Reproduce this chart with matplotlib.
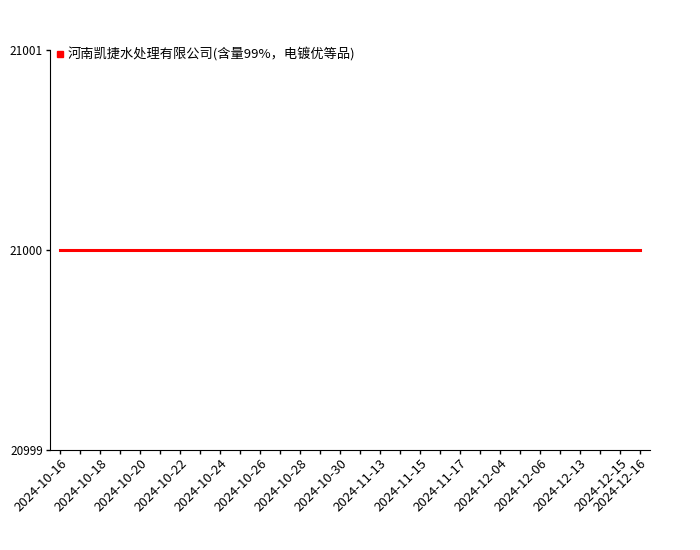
import matplotlib
matplotlib.use('Agg')
import matplotlib.pyplot as plt
from matplotlib.lines import Line2D

plt.rcParams['font.family'] = ['Noto Sans CJK SC', 'DejaVu Sans']

dates = ['2024-10-16', '2024-10-17', '2024-10-18', '2024-10-19', '2024-10-20',
         '2024-10-21', '2024-10-22', '2024-10-23', '2024-10-24', '2024-10-25',
         '2024-10-26', '2024-10-27', '2024-10-28', '2024-10-29', '2024-10-30',
         '2024-10-31', '2024-11-13', '2024-11-14', '2024-11-15', '2024-11-16',
         '2024-11-17', '2024-12-03', '2024-12-04', '2024-12-05', '2024-12-06',
         '2024-12-12', '2024-12-13', '2024-12-14', '2024-12-15', '2024-12-16']
prices = [21000] * 30
series_name = '河南凯捷水处理有限公司(含量99%，电镀优等品)'
y_ticks = [20999, 21000, 21001]

fig = plt.figure(figsize=(7, 5.5), dpi=100)
ax = fig.add_axes([50 / 700, 100 / 550, 600 / 700, 400 / 550])

x = list(range(len(dates)))
ax.plot(x, prices, color='#ff0000', linewidth=2.2)

ax.set_xlim(-0.5, len(dates) - 0.5)
ax.set_ylim(y_ticks[0], y_ticks[-1])
ax.set_yticks(y_ticks)
ax.set_yticklabels([str(v) for v in y_ticks])

ax.set_xticks(x)
labels = [d if (i % 2 == 0 or i == len(dates) - 1) else '' for i, d in enumerate(dates)]
ax.set_xticklabels(labels, rotation=45, ha='right', rotation_mode='anchor')

ax.spines['top'].set_visible(False)
ax.spines['right'].set_visible(False)
ax.tick_params(axis='both', length=3, width=1, colors='black', pad=2)
ax.tick_params(axis='x', labelsize=9.5)
ax.tick_params(axis='y', labelsize=8.5)

handle = Line2D([], [], marker='s', color='#ff0000', linestyle='None', markersize=4)
ax.legend([handle], [series_name], loc='upper left', bbox_to_anchor=(-0.005, 1.03),
          frameon=False, fontsize=9.5, handlelength=0.6, handletextpad=0.25,
          borderaxespad=0.3)

fig.savefig('out.png', dpi=100)
